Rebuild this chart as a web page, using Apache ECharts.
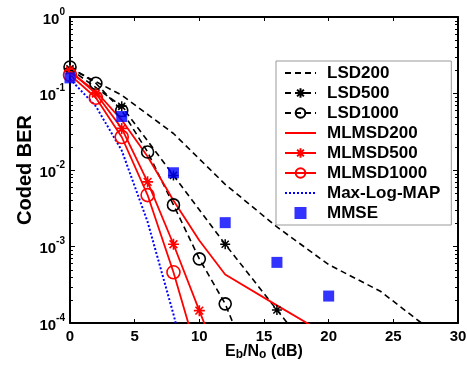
<!DOCTYPE html>
<html>
<head>
<meta charset="utf-8">
<script src="https://cdn.jsdelivr.net/npm/echarts@6/dist/echarts.min.js"></script>
<style>
html,body{margin:0;padding:0;background:#fff;}
#c{width:467px;height:368px;}
</style>
</head>
<body>
<div id="c"></div>
<script>
// ---- data ----
const xTicks = [0, 5, 10, 15, 20, 25, 30];
const yTicks = [1e-4, 1e-3, 1e-2, 1e-1, 1];

const snrLSD200 = [0, 4, 8, 12, 16, 20, 24, 28];
const berLSD200 = [0.215, 0.095, 0.030, 6.5e-3, 1.8e-3, 5.8e-4, 2.6e-4, 7.8e-5];

const snrLSD500 = [0, 4, 8, 12, 16, 20];
const berLSD500 = [0.21, 0.068, 8.5e-3, 1.07e-3, 1.48e-4, 2.1e-5];

const snrLSD1000 = [0, 2, 4, 6, 8, 10, 12, 14];
const berLSD1000 = [0.222, 0.136, 0.060, 0.0172, 3.5e-3, 6.9e-4, 1.78e-4, 2.6e-5];

const snrMLMSD200 = [0, 2, 4, 6, 8, 10, 12, 16, 20];
const berMLMSD200 = [0.19, 0.107, 0.045, 0.015, 4.0e-3, 1.2e-3, 4.3e-4, 1.7e-4, 6.8e-5];

const snrMLMSD500 = [0, 2, 4, 6, 8, 10, 12];
const berMLMSD500 = [0.20, 0.10, 0.035, 7.0e-3, 1.07e-3, 1.45e-4, 2.0e-5];

const snrMLMSD1000 = [0, 2, 4, 6, 8, 10];
const berMLMSD1000 = [0.175, 0.088, 0.027, 4.7e-3, 4.6e-4, 3.2e-5];

const snrMaxLogMAP = [0, 2, 4, 6, 8, 10];
const berMaxLogMAP = [0.155, 0.068, 0.018, 2.1e-3, 1.3e-4, 6e-6];

const snrMMSE = [0, 4, 8, 12, 16, 20];
const berMMSE = [0.16, 0.050, 9.2e-3, 2.05e-3, 6.2e-4, 2.25e-4];

const legendNames = ['LSD200', 'LSD500', 'LSD1000', 'MLMSD200', 'MLMSD500', 'MLMSD1000', 'Max-Log-MAP', 'MMSE'];

// ---- chart ----
const pairs = (xs, ys) => xs.map((x, i) => [x, ys[i]]);
const FONT = '"Liberation Sans", Arial, sans-serif';
const asterisk = 'path://M0,-10L0,10M-10,0L10,0M-7.07,-7.07L7.07,7.07M-7.07,7.07L7.07,-7.07';
const square = 'path://M0,0H10V10H0Z';
const noMarker = ['LSD200', 'MLMSD200', 'Max-Log-MAP'];

const chart = echarts.init(document.getElementById('c'), null, {renderer: 'canvas'});

const lineSeries = (name, xs, ys, color, type, width, symbol, symSize, symStyle) => ({
  name: name,
  type: 'line',
  data: pairs(xs, ys),
  clip: true,
  symbol: symbol || 'none',
  symbolSize: symSize || 0,
  showSymbol: !!symbol,
  lineStyle: {color: color, type: type, width: width},
  itemStyle: symStyle || {color: color},
  emphasis: {disabled: true},
  animation: false,
  z: 3
});

const option = {
  animation: false,
  textStyle: {fontFamily: FONT},
  grid: {left: 70, right: 9, top: 17, bottom: 45, containLabel: false, outerBoundsMode: 'none'},
  xAxis: [{
    type: 'value', min: 0, max: 30, interval: 5, position: 'bottom',
    name: 'E{sub|b}/N{sub|o} (dB)', nameLocation: 'middle', nameGap: 20, nameMoveOverlap: false,
    nameTextStyle: {fontFamily: FONT, fontSize: 16, fontWeight: 'bold', color: '#000',
      rich: {sub: {fontFamily: FONT, fontSize: 12, fontWeight: 'bold', color: '#000', verticalAlign: 'bottom', padding: [6, 0, 0, 0]}}},
    axisLine: {show: true, onZero: false, lineStyle: {color: '#000', width: 2}},
    axisTick: {show: true, inside: true, length: 4, lineStyle: {color: '#000', width: 1}},
    axisLabel: {color: '#000', fontFamily: FONT, fontSize: 15, fontWeight: 'bold', margin: 6,
      formatter: v => xTicks.includes(v) ? String(v) : ''},
    splitLine: {show: false}
  }, {
    type: 'value', min: 0, max: 30, interval: 5, position: 'top',
    axisLine: {show: true, onZero: false, lineStyle: {color: '#000', width: 2}},
    axisTick: {show: true, inside: true, length: 4, lineStyle: {color: '#000', width: 1}},
    axisLabel: {show: false}, splitLine: {show: false}
  }],
  yAxis: [{
    type: 'log', logBase: 10, min: yTicks[0], max: yTicks[yTicks.length - 1], position: 'left',
    name: 'Coded BER', nameLocation: 'middle', nameGap: 35, nameRotate: 90, nameMoveOverlap: false,
    nameTextStyle: {fontFamily: FONT, fontSize: 20, fontWeight: 'bold', color: '#000'},
    axisLine: {show: true, onZero: false, lineStyle: {color: '#000', width: 2}},
    axisTick: {show: true, inside: true, length: 5, lineStyle: {color: '#000', width: 1}},
    axisLabel: {color: '#000', margin: 5,
      formatter: v => '{b|10}{s|' + Math.round(Math.log10(v)) + '}',
      rich: {
        b: {fontFamily: FONT, fontSize: 15, fontWeight: 'bold', color: '#000', lineHeight: 20, verticalAlign: 'bottom'},
        s: {fontFamily: FONT, fontSize: 10, fontWeight: 'bold', color: '#000', verticalAlign: 'top'}
      }},
    splitLine: {show: false}, minorTick: {show: false}
  }, {
    type: 'log', logBase: 10, min: yTicks[0], max: yTicks[yTicks.length - 1], position: 'right',
    axisLine: {show: true, onZero: false, lineStyle: {color: '#000', width: 2}},
    axisTick: {show: true, inside: true, length: 5, lineStyle: {color: '#000', width: 1}},
    axisLabel: {show: false}, splitLine: {show: false}
  }],
  legend: {
    show: true, orient: 'vertical', left: 276, top: 61,
    padding: [2, 11, 2, 8], itemGap: 0, itemWidth: 31, itemHeight: 12,
    backgroundColor: '#fff', borderColor: '#999', borderWidth: 1, borderRadius: 0,
    textStyle: {fontFamily: FONT, fontSize: 17, fontWeight: 'bold', color: '#000', lineHeight: 20, padding: [0, 0, 0, 6]},
    selectedMode: false,
    data: legendNames.map(n => noMarker.includes(n) ? {name: n, itemStyle: {opacity: 0}}
      : (n === 'MMSE' ? {name: n, icon: square} : {name: n}))
  },
  series: [
    lineSeries('LSD200', snrLSD200, berLSD200, '#000', [6, 4], 1.6),
    lineSeries('LSD500', snrLSD500, berLSD500, '#000', [6, 4], 1.6, asterisk, 10,
      {color: '#000', borderColor: '#000', borderWidth: 1.5}),
    lineSeries('LSD1000', snrLSD1000, berLSD1000, '#000', [6, 4], 1.6, 'circle', 12,
      {color: 'rgba(255,255,255,0)', borderColor: '#000', borderWidth: 1.6}),
    lineSeries('MLMSD200', snrMLMSD200, berMLMSD200, '#ff0000', 'solid', 1.8),
    lineSeries('MLMSD500', snrMLMSD500, berMLMSD500, '#ff0000', 'solid', 1.8, asterisk, 11,
      {color: '#ff0000', borderColor: '#ff0000', borderWidth: 1.6}),
    lineSeries('MLMSD1000', snrMLMSD1000, berMLMSD1000, '#ff0000', 'solid', 1.8, 'circle', 13,
      {color: 'rgba(255,255,255,0)', borderColor: '#ff0000', borderWidth: 1.6}),
    lineSeries('Max-Log-MAP', snrMaxLogMAP, berMaxLogMAP, '#0000ff', [2, 2], 2),
    {
      name: 'MMSE', type: 'scatter', data: pairs(snrMMSE, berMMSE),
      symbol: 'rect', symbolSize: 11, itemStyle: {color: '#0000ff'},
      emphasis: {disabled: true}, animation: false, z: 4, clip: true
    }
  ]
};
chart.setOption(option);

// minor ticks (2..9 per decade) on left and right log axes, placed via the axis scale
const graphics = [];
const xl = chart.convertToPixel({xAxisIndex: 0}, 0);
const xr = chart.convertToPixel({xAxisIndex: 0}, 30);
for (let d = -4; d < 0; d++) {
  for (let k = 2; k <= 9; k++) {
    const py = Math.round(chart.convertToPixel({yAxisIndex: 0}, k * Math.pow(10, d))) + 0.5;
    graphics.push({type: 'line', silent: true, z: 10,
      shape: {x1: xl, y1: py, x2: xl + 3, y2: py}, style: {stroke: '#000', lineWidth: 1}});
    graphics.push({type: 'line', silent: true, z: 10,
      shape: {x1: xr - 3, y1: py, x2: xr, y2: py}, style: {stroke: '#000', lineWidth: 1}});
  }
}
chart.setOption({graphic: graphics});
</script>
</body>
</html>
